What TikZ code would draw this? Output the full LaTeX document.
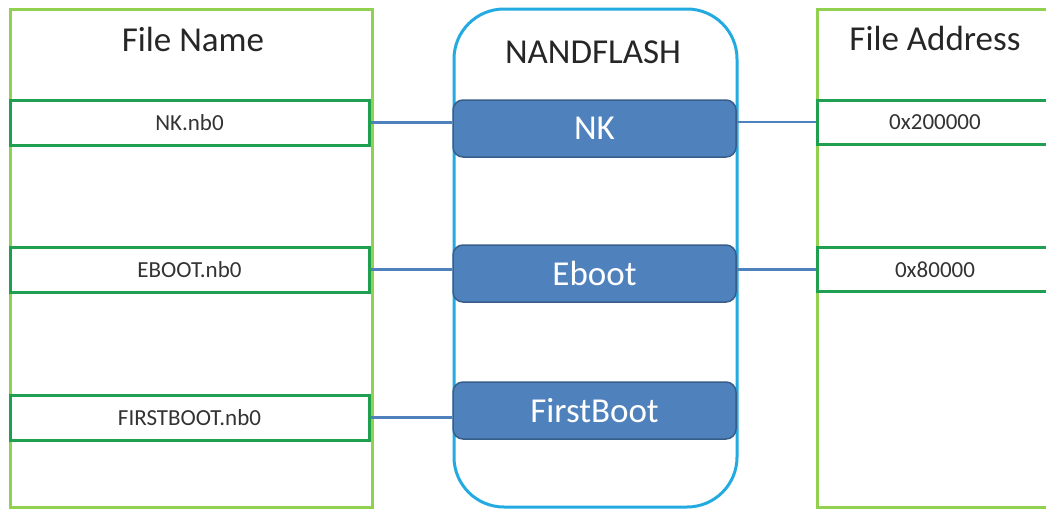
\documentclass[tikz,border=0pt]{standalone}
\usepackage{fontspec}
\setmainfont{Carlito}
\definecolor{panelgreen}{RGB}{146,208,80}
\definecolor{boxgreen}{RGB}{30,160,80}
\definecolor{flashblue}{RGB}{35,170,225}
\definecolor{barfill}{RGB}{79,129,189}
\definecolor{bardraw}{RGB}{56,93,138}

\begin{document}
\begin{tikzpicture}[
  x=1pt, y=-1pt,
  panel/.style={draw=panelgreen, line width=3pt, inner sep=0pt, minimum height=498pt},
  filebox/.style={draw=boxgreen, line width=3pt, inner sep=0pt, minimum height=45pt,
                  font=\fontsize{23}{26}\selectfont, text=black!80},
  title/.style={anchor=base, font=\fontsize{35}{40}\selectfont, text=black!85},
  bar/.style={draw=bardraw, fill=barfill, line width=1.5pt, rounded corners=10pt,
              minimum width=283pt, minimum height=57pt, inner sep=0pt,
              text=white, font=\fontsize{35}{40}\selectfont},
  link/.style={draw=barfill, line width=2.5pt},
]
\useasboundingbox (0,0) rectangle (1046,509);

% ---------- columns ----------
\node[panel, minimum width=362pt] (namepanel) at (191,258) {};
\node[draw=flashblue, line width=3pt, rounded corners=50pt, inner sep=0pt,
      minimum width=283pt, minimum height=498pt] (flash) at (595.5,258) {};
\node[panel, minimum width=236pt] (addrpanel) at (935,258) {};

\node[title] (nametitle) at (193,51.7) {File Name};
\node[title] (flashtitle) at (593,63) {NANDFLASH};
\node[title] (addrtitle) at (935,50) {File Address};

% ---------- file names ----------
\node[filebox, minimum width=359pt] (nkfile) at (189.5,122.5) {NK.nb0};
\node[filebox, minimum width=359pt] (ebootfile) at (189.5,269.5) {EBOOT.nb0};
\node[filebox, minimum width=359pt] (firstfile) at (189.5,417.5) {FIRSTBOOT.nb0};

% ---------- flash regions ----------
\node[bar] (nkbar) at (594.5,128.5) {NK};
\node[bar] (ebootbar) at (594.5,273.5) {Eboot};
\node[bar] (firstbar) at (594.5,410.5) {FirstBoot};

% ---------- addresses ----------
\node[filebox, minimum width=236pt, minimum height=44pt] (nkaddr) at (935,122) {0x200000};
\node[filebox, minimum width=236pt, minimum height=44pt] (ebootaddr) at (935,269.5) {0x80000};

% ---------- links ----------
\draw[link] (nkfile.east) -- (nkfile.east -| nkbar.west);
\draw[link] (ebootfile.east) -- (ebootfile.east -| ebootbar.west);
\draw[link] (firstfile.east) -- (firstfile.east -| firstbar.west);
\draw[link] (nkaddr.west -| nkbar.east) -- (nkaddr.west);
\draw[link] (ebootaddr.west -| ebootbar.east) -- (ebootaddr.west);

\end{tikzpicture}
\end{document}
